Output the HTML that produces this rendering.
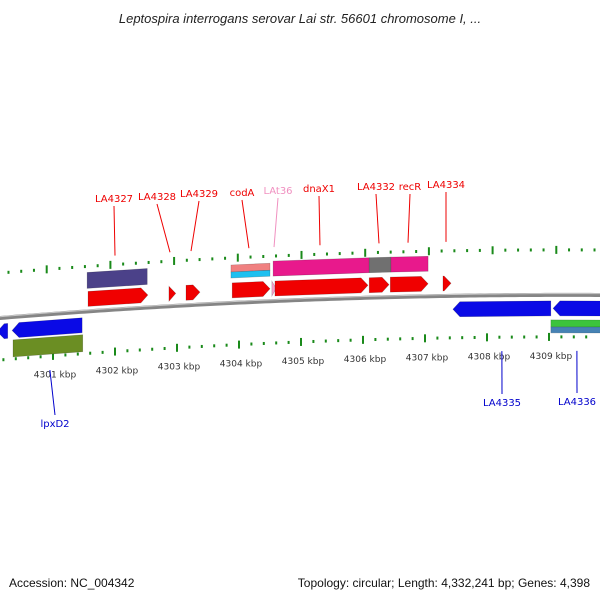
<!DOCTYPE html>
<html><head><meta charset="utf-8"><style>
html,body{margin:0;padding:0;background:#fff;}
svg{display:block;font-family:"DejaVu Sans","Liberation Sans",sans-serif;}
</style></head><body>
<svg id="map" width="600" height="600" viewBox="0 0 600 600">
<text x="300" y="23" text-anchor="middle" font-size="13" font-style="italic" fill="#222" font-family="Liberation Sans, sans-serif">Leptospira interrogans serovar Lai str. 56601 chromosome I, ...</text>
<g id="ticks"></g>
<path id="backbone" fill="none" stroke="#858585" stroke-width="4"></path>
<path id="backbone-hl" fill="none" stroke="#c8c8c8" stroke-width="1"></path>
<g id="features"></g>
<g id="labels"></g>
<text x="9" y="587" font-size="12" fill="#111" font-family="Liberation Sans, sans-serif">Accession: NC_004342</text>
<text x="590" y="587" font-size="12" fill="#111" text-anchor="end" font-family="Liberation Sans, sans-serif">Topology: circular; Length: 4,332,241 bp; Genes: 4,398</text>
</svg>
<script>
// data (positions in kbp)
const kbpTicks = [4300, 4301, 4302, 4303, 4304, 4305, 4306, 4307, 4308, 4309, 4310];
const tickLabels = ["4301 kbp","4302 kbp","4303 kbp","4304 kbp","4305 kbp","4306 kbp","4307 kbp","4308 kbp","4309 kbp"];
const fwdGenes = [["LA4327",4301.565,4302.53],["LA4328",4302.87,4302.98],["LA4329",4303.145,4303.37],["codA",4303.89,4304.5],["LAt36",4304.53,4304.6],["dnaX1",4304.58,4306.08],["LA4332",4306.1,4306.42],["recR",4306.44,4307.05],["LA4334",4307.29,4307.42]];
const revGenes = [["rev0",4300.1,4300.27],["lpxD2",4300.34,4301.47],["LA4335",4307.45,4309.03],["LA4336",4309.065,4309.9]];
const fwdCds = [["cds-4327",4301.55,4302.52,"#4b4189",-39,-23],["cds-codA-a",4303.87,4304.5,"#f08080",-38,-31],["cds-codA-b",4303.87,4304.5,"#1ec0f0",-31,-25],["cds-dnaX1",4304.55,4306.1,"#e8198c",-40,-25],["cds-4332",4306.1,4306.45,"#707070",-40,-25],["cds-recR",4306.45,4307.05,"#e8198c",-40,-25]];
const revCds = [["cds-lpxD2",4300.355,4301.48,"#6b8e23",23,40],["cds-4336-a",4309.03,4309.9,"#3cc43c",25,32],["cds-4336-b",4309.03,4309.9,"#4682b4",32,38]];
const fwdLabels = [["LA4327",4302.0,114,199],["LA4328",4302.887,157,197],["LA4329",4303.226,199,194],["codA",4304.16,242,193],["LAt36",4304.565,278,191],["dnaX1",4305.306,319,189],["LA4332",4306.258,376,187],["recR",4306.726,410,187],["LA4334",4307.339,446,185]];
const revLabels = [["lpxD2",4300.95,55,427],["LA4335",4308.24,502,406],["LA4336",4309.45,577,405]];

const NS="http://www.w3.org/2000/svg";
function X(k){return 53+(k-4301)*62;}
function curve(x){return 7.22e-5*x*x-0.0817*x+318;}
function mk(tag,attrs,parent){const e=document.createElementNS(NS,tag);for(const a in attrs)e.setAttribute(a,attrs[a]);parent.appendChild(e);return e;}
let d="";for(let x=-5;x<=605;x+=5){d+=(x==-5?"M":"L")+x+","+curve(x).toFixed(2);}
document.getElementById('backbone').setAttribute('d',d);
let d2="";for(let x=-5;x<=605;x+=5){d2+=(x==-5?"M":"L")+x+","+(curve(x)-1.3).toFixed(2);}
document.getElementById('backbone-hl').setAttribute('d',d2);
const tg=document.getElementById('ticks');
kbpTicks.forEach((k,i)=>{
  for(let m=0;m<5;m++){
    const kk=k+m*0.2;
    const xu=X(kk)-7*(1-(kk-4300)/10)+(kk-4301)*1;
    const xl=X(kk);
    [[xu,-45],[xl,42]].forEach(([x,off])=>{
      if(x<2||x>598)return;
      const y=curve(x)+off;
      const r=mk('rect',{x:x-1,y:m==0?y-4:y-1.5,width:2,height:m==0?8:3,fill:'#1a8a1a'},tg);
      
      
    });
  }
});
tickLabels.forEach((t,i)=>{
  const x=X(4301+i)+2;
  const tx=mk('text',{x:x,y:curve(x)+64,'font-size':9,fill:'#333','text-anchor':'middle'},tg);
  tx.textContent=t;
  
  
});
const fg=document.getElementById('features');
function band(x1,x2,o1,o2,fill,dir,name){
  const h=7;let pts;
  const y=(x,o)=>(curve(x)+o).toFixed(1);
  if(dir>0){const xh=Math.max(x1,x2-h);pts=[[x1,y(x1,o1)],[xh,y(xh,o1)],[x2,y(x2,(o1+o2)/2)],[xh,y(xh,o2)],[x1,y(x1,o2)]];}
  else if(dir<0){const xh=Math.min(x2,x1+h);pts=[[x1,y(x1,(o1+o2)/2)],[xh,y(xh,o1)],[x2,y(x2,o1)],[x2,y(x2,o2)],[xh,y(xh,o2)]];}
  else pts=[[x1,y(x1,o1)],[x2,y(x2,o1)],[x2,y(x2,o2)],[x1,y(x1,o2)]];
  const p=mk('polygon',{points:pts.map(p=>p.join(',')).join(' '),fill:fill,stroke:'rgba(0,0,0,0.25)','stroke-width':0.6},fg);
  
  
}
fwdCds.forEach(c=>band(X(c[1]),X(c[2]),c[4],c[5],c[3],0,c[0]));
revCds.forEach(c=>band(X(c[1]),X(c[2]),c[4],c[5],c[3],0,c[0]));
fwdGenes.forEach(g=>band(X(g[1]),X(g[2]),-20,-5,g[0]=="LAt36"?'#f5a0c8':'#f00000',1,'gene-'+g[0].toLowerCase()));
revGenes.forEach(g=>band(X(g[1]),X(g[2]),6,21,'#0a0ae6',-1,'gene-'+g[0].toLowerCase()));
const lg=document.getElementById('labels');
fwdLabels.forEach(l=>{
  const col=l[0]=="LAt36"?'#f090c0':'#ee0000';
  const gx=X(l[1]);
  const ln=mk('line',{x1:l[2],y1:l[3]+7,x2:gx,y2:curve(gx)-54,stroke:col,'stroke-width':1},lg);
  
  
  const t=mk('text',{x:l[2],y:l[3]+3,'font-size':10,fill:col,'text-anchor':'middle'},lg);
  t.textContent=l[0];
  
  
});
revLabels.forEach(l=>{
  const gx=X(l[1]);
  const ln=mk('line',{x1:gx,y1:curve(gx)+56,x2:l[2],y2:l[3]-12,stroke:'#0000cc','stroke-width':1},lg);
  
  
  const t=mk('text',{x:l[2],y:l[3],'font-size':10,fill:'#0000cc','text-anchor':'middle'},lg);
  t.textContent=l[0];
  
  
});
</script>
</body></html>
